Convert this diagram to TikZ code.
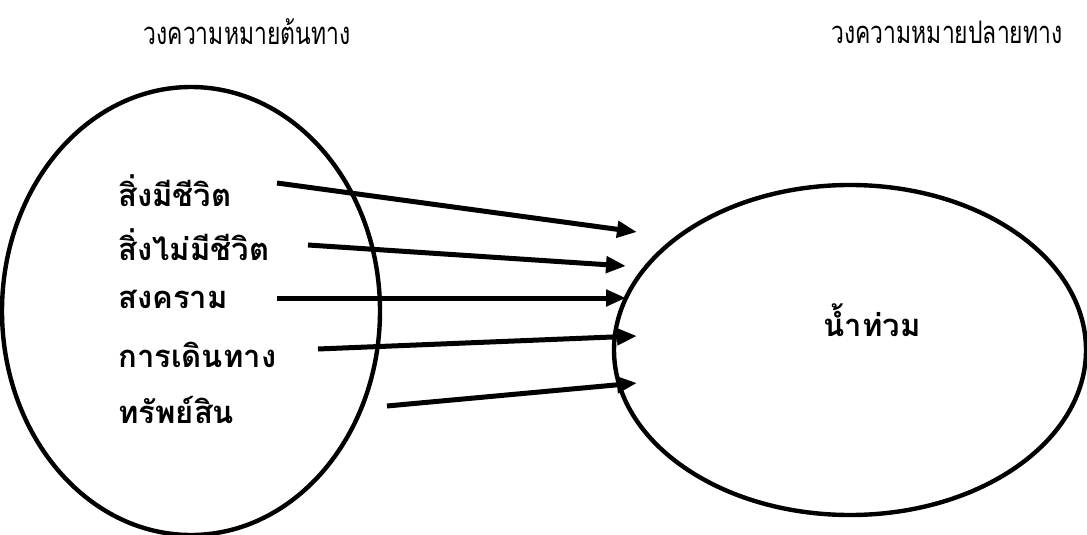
\documentclass[tikz,border=0pt]{standalone}
\usepackage{fontspec}
\newfontfamily\thaifont[Script=Thai]{Loma}
\usetikzlibrary{arrows.meta,positioning,shapes.geometric}
\newcommand{\narrowtext}[1]{\scalebox{0.74}[1]{#1}}
\tikzset{
    ring/.style={
        ellipse,
        draw=black,
        line width=2.2pt,
        inner sep=0pt
    },
    title/.style={
        font=\thaifont\fontsize{15.5}{18}\selectfont,
        anchor=center
    },
    term/.style={
        font=\thaifont\bfseries\fontsize{15.5}{18}\selectfont,
        anchor=west,
        inner sep=0pt
    },
    link/.style={-{Triangle[length=10pt,width=8pt]},line width=2.5pt,draw=black}
}

\begin{document}
\begin{tikzpicture}[x=0.5pt,y=-0.5pt]
    \useasboundingbox (0,0) rectangle (1087,535);

    \node[ring, minimum width=189pt, minimum height=224pt] (source) at (191,311) {};
    \node[ring, minimum width=236pt, minimum height=165pt] (target) at (850,350) {};

    \node[title] (sourcetitle) at (247,32) {\narrowtext{วงความหมายต้นทาง}};
    \node[title] (targettitle) at (947,32) {\narrowtext{วงความหมายปลายทาง}};

    \node[term] (living) at (118,191) {สิ่งมีชีวิต};
    \node[term] (nonliving) at (118,245) {สิ่งไม่มีชีวิต};
    \node[term] (war) at (118,299) {สงคราม};
    \node[term] (travel) at (118,355) {การเดินทาง};
    \node[term] (wealth) at (118,410) {ทรัพย์สิน};
    \node[font=\thaifont\bfseries\fontsize{15.5}{18}\selectfont] (flood) at (872,320) {น้ำท่วม};

    \coordinate (livingtail) at (277,183);
    \coordinate (nonlivingtail) at (308,245);
    \coordinate (wartail) at (277,298);
    \coordinate (traveltail) at (318,349);
    \coordinate (wealthtail) at (387,406);
    \coordinate (livinghead) at (637,232);
    \coordinate (nonlivinghead) at (626,266);
    \coordinate (warhead) at (626,298);
    \coordinate (travelhead) at (637,336);
    \coordinate (wealthhead) at (637,383);

    \draw[link] (livingtail) -- (livinghead);
    \draw[link] (nonlivingtail) -- (nonlivinghead);
    \draw[link] (wartail) -- (warhead);
    \draw[link] (traveltail) -- (travelhead);
    \draw[link] (wealthtail) -- (wealthhead);
\end{tikzpicture}
\end{document}
